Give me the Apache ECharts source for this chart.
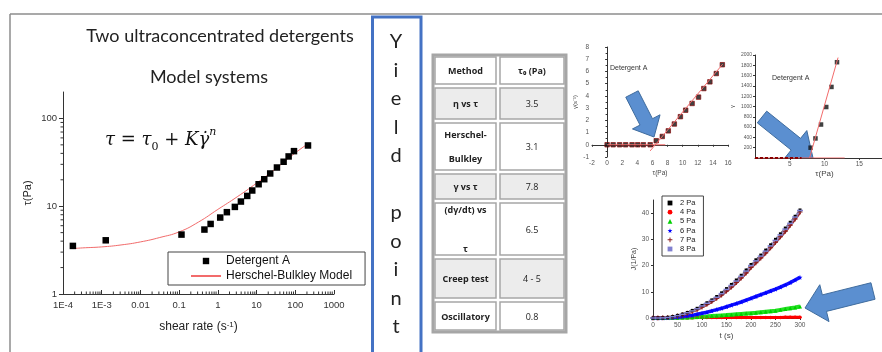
<!DOCTYPE html>
<html><head><meta charset="utf-8">
<script src="https://cdn.jsdelivr.net/npm/echarts@6/dist/echarts.min.js"></script>
<style>html,body{margin:0;padding:0;background:#fff}#c{width:882px;height:352px}</style>
</head><body><div id="c"></div><script>
// ---------- DATA ----------
// Main flow curve (log-log)
const shearRate = [1.8e-4,1.27e-3,0.115,0.45,0.65,1.15,1.71,2.75,3.94,5.74,7.73,11.3,15.8,22.5,33.6,49.9,67.3,92.5,213];
const shearStress = [3.53,4.09,4.75,5.42,6.28,7.43,8.55,9.82,11.3,13.1,15.1,17.8,20.3,23.6,27.6,32.1,36.9,42.4,49.2];
const modelRate = [1.8e-4,3.16e-4,1e-3,3.16e-3,1e-2,3.16e-2,0.1,0.316,1,3.16,10,31.6,100,213];
const modelStress = [3.29,3.35,3.44,3.62,3.92,4.4,5.1,6.6,9.2,12.8,18.3,26.9,40.5,51.5];
const xTickLabels = {'-4':'1E-4','-3':'1E-3','-2':'0.01','-1':'0.1','0':'1','1':'10','2':'100','3':'1000'};
const yTickLabels = {'0':'1','1':'10','2':'100'};

// Shear rate vs stress (top middle)
const tauRate = [0,0.8,1.65,2.45,3.3,4.05,4.8,5.7,6.5,7.3,8.1,8.9,9.7,10.4,11.25,12.1,12.8,13.6,14.45,15.25];
const rateVals = [0,0,0,0,0,0,0,0,0.33,0.68,1.14,1.7,2.3,2.83,3.38,3.9,4.6,5.15,5.83,6.55];
const rateFitTau = [5.7,15.3];
const rateFitVal = [-0.5,6.6];
const rateBaseTau = [0,7.7];
const rateBaseVal = [0,0];

// Strain vs stress (top right)
const tauStrain = [8.0,8.7,9.5,10.25,11.0,11.8];
const strainVals = [200,380,650,990,1380,1860];
const strainFlatTau = [0,6.7];
const strainFlatVal = [0,0];
const strainFitTau = [7.85,11.95];
const strainFitVal = [0,1950];
const strainBaseTau = [0,12.9];
const strainBaseVal = [0,0];

// Creep compliance (bottom right)
const creepTime = [0,10,20,30,40,50,60,70,80,90,100,110,120,130,140,150,160,170,180,190,200,210,220,230,240,250,260,270,280,290,300];
const J2Pa = [0,0,0.05,0.25,0.55,1.0,1.5,2.1,2.9,3.7,4.8,5.8,6.9,8.2,9.6,11.2,12.8,14.5,16.3,18.3,20.4,22.2,24.0,25.9,27.9,30.0,32.1,34.3,36.5,38.8,41.2];
const J4Pa = [0,0.05,0.08,0.1,0.1,0.12,0.12,0.14,0.14,0.15,0.15,0.16,0.16,0.17,0.17,0.18,0.18,0.19,0.19,0.2,0.2,0.21,0.21,0.22,0.22,0.23,0.23,0.24,0.24,0.25,0.25];
const J5Pa = [0,0,0,0,0.05,0.1,0.15,0.2,0.3,0.4,0.5,0.6,0.75,0.9,1.0,1.1,1.25,1.4,1.55,1.7,1.85,2.0,2.2,2.4,2.6,2.8,3.1,3.4,3.7,4.0,4.4];
const J6Pa = [0,0,0,0.05,0.15,0.3,0.5,0.75,1.0,1.4,1.8,2.2,2.7,3.2,3.7,4.3,4.9,5.5,6.1,6.8,7.5,8.2,8.9,9.6,10.3,11.0,11.8,12.6,13.5,14.5,15.5];
const J7Pa = [0,0,0.05,0.15,0.4,0.8,1.2,1.8,2.5,3.2,4.2,5.2,6.3,7.5,8.8,10.3,11.8,13.5,15.3,17.2,19.3,21.1,22.9,24.8,26.8,28.9,31.0,33.1,35.4,37.8,40.4];
const J8Pa = [0,0,0.05,0.2,0.5,0.9,1.4,2.0,2.7,3.5,4.6,5.6,6.7,7.9,9.3,10.9,12.4,14.1,15.9,17.9,20.0,21.8,23.6,25.5,27.5,29.6,31.7,33.9,36.1,38.5,41.0];

// Table
const tableHeader = ['Method','τ\u2080 (Pa)'];
const tableMethods = ['η vs τ','Herschel-\nBulkley','γ vs τ','(dγ/dt) vs\n\nτ','Creep test','Oscillatory'];
const tableValues = ['3.5','3.1','7.8','6.5','4 - 5','0.8'];
const yieldLetters = ['Y','i','e','l','d','','p','o','i','n','t'];

// ---------- HELPERS ----------
const zip = (a,b) => a.map((v,i)=>[v,b[i]]);
function arrowPts(x1,y1,x2,y2,sw,hw,hl){
  const dx=x2-x1, dy=y2-y1, L=Math.hypot(dx,dy), ux=dx/L, uy=dy/L, px=-uy, py=ux;
  const bx=x2-ux*hl, by=y2-uy*hl;
  return [[x1+px*sw/2,y1+py*sw/2],[bx+px*sw/2,by+py*sw/2],[bx+px*hw/2,by+py*hw/2],[x2,y2],
          [bx-px*hw/2,by-py*hw/2],[bx-px*sw/2,by-py*sw/2],[x1-px*sw/2,y1-py*sw/2]];
}
const minorX = []; for (let d=-4; d<3; d++) for (let k=2;k<10;k++) minorX.push(k*Math.pow(10,d));
const minorY = []; for (let d=0; d<3; d++) for (let k=2;k<10;k++) { const v=k*Math.pow(10,d); if (v<200) minorY.push(v); }

const SANS = 'Liberation Sans';
const smallLbl = {fontSize:6.5, color:'#555', fontFamily:SANS};
const axLine = {lineStyle:{color:'#333', width:1}};

// ---------- GRAPHIC ----------
const g = [];
g.push({type:'line', shape:{x1:10,y1:14,x2:882,y2:14}, style:{stroke:'#8c8c8c', lineWidth:1.5}, silent:true});
g.push({type:'line', shape:{x1:10,y1:14,x2:10,y2:352}, style:{stroke:'#8c8c8c', lineWidth:1.5}, silent:true});
g.push({type:'text', style:{text:'Two ultraconcentrated detergents', x:220, y:36, align:'center', verticalAlign:'middle', textAlign:'center', textVerticalAlign:'middle', font:'18px Lato', fill:'#222'}});
g.push({type:'text', style:{text:'Model systems', x:209, y:77, align:'center', verticalAlign:'middle', textAlign:'center', textVerticalAlign:'middle', font:'18px Lato', fill:'#222'}});
g.push({type:'text', style:{
  text:'{i|τ} = {i|τ}{sub|0} + {i|Kγ\u0307}{sup|n}', x:105, y:140, verticalAlign:'middle', textVerticalAlign:'middle',
  fontFamily:'DejaVu Serif', fontSize:18, fill:'#111', lineHeight:26,
  rich:{i:{fontStyle:'italic', fontFamily:'DejaVu Serif', fontSize:18, lineHeight:26},
        sub:{fontSize:11, fontFamily:'DejaVu Serif', verticalAlign:'bottom', lineHeight:18},
        sup:{fontSize:11, fontStyle:'italic', fontFamily:'DejaVu Serif', verticalAlign:'top', lineHeight:18}}
}});
// blue "Yield point" box
g.push({type:'rect', shape:{x:372.5,y:17,width:48.5,height:345}, style:{fill:'none', stroke:'#4472C4', lineWidth:3}});
yieldLetters.forEach((ch,i)=>{
  g.push({type:'text', style:{text:ch, x:396, y:42+i*28.5, align:'center', verticalAlign:'middle', textAlign:'center', textVerticalAlign:'middle', font:'20px Lato', fill:'#222'}});
});
// table
const colX = [433,498,566];
const rowY = [55,86,121,172,201,257,300,332];
const rowFill = ['#ffffff','#ececec','#ffffff','#ececec','#ffffff','#ececec','#ffffff'];
g.push({type:'rect', shape:{x:colX[0],y:rowY[0],width:colX[2]-colX[0],height:rowY[7]-rowY[0]}, style:{fill:'#fff', stroke:'#a6a6a6', lineWidth:3}});
for (let r=0;r<7;r++){
  for (let c=0;c<2;c++){
    g.push({type:'rect', shape:{x:colX[c]+2,y:rowY[r]+2,width:colX[c+1]-colX[c]-4,height:rowY[r+1]-rowY[r]-4}, style:{fill:rowFill[r], stroke:'#a6a6a6', lineWidth:1.5}});
    const txt = r===0 ? tableHeader[c] : (c===0 ? tableMethods[r-1] : tableValues[r-1]);
    const bold = (r===0 || c===0);
    const lh = (r===2 && c===0) ? 24 : 19.5;
    g.push({type:'text', style:{text:txt, x:(colX[c]+colX[c+1])/2, y:(rowY[r]+rowY[r+1])/2+1, align:'center', verticalAlign:'middle', textAlign:'center', textVerticalAlign:'middle',
      fontFamily:'Open Sans', fontSize:9, fontWeight: bold?'bold':'normal', lineHeight:lh, fill:'#222'}});
  }
}
// small chart captions
g.push({type:'text', style:{text:'Detergent A', x:610, y:68, verticalAlign:'middle', textVerticalAlign:'middle', font:'7px '+SANS, fill:'#333'}});
g.push({type:'text', style:{text:'Detergent A', x:772, y:78, verticalAlign:'middle', textVerticalAlign:'middle', font:'7px '+SANS, fill:'#333'}});
// arrows
const arrowStyle = {fill:'#5B8FD0', stroke:'#3F6C9E', lineWidth:1};
g.push({type:'polygon', shape:{points:arrowPts(632,94,654,137,14,31,17)}, style:arrowStyle});
g.push({type:'polygon', shape:{points:arrowPts(762,117,813,158,15,35,22)}, style:arrowStyle});
g.push({type:'polygon', shape:{points:arrowPts(873,291,805,308,17,38,20)}, style:arrowStyle});

// ---------- OPTION ----------
const option = {
  backgroundColor:'#fff',
  animation:false,
  grid:[
    {left:63, top:92, width:271, height:202, outerBoundsMode:'none', containLabel:false},
    {left:592, top:47, width:136, height:110, outerBoundsMode:'none', containLabel:false},
    {left:755, top:55, width:139, height:103, outerBoundsMode:'none', containLabel:false},
    {left:653, top:200, width:147, height:118, outerBoundsMode:'none', containLabel:false}
  ],
  xAxis:[
    {gridIndex:0, type:'log', logBase:10, min:1e-4, max:1000, axisLine:axLine,
     axisTick:{inside:true, length:4, lineStyle:{color:'#333'}}, splitLine:{show:false},
     axisLabel:{margin:6, fontSize:9.5, color:'#333', fontFamily:SANS, formatter:v=>{const e=Math.round(Math.log10(v)); return Math.abs(Math.log10(v)-e)<1e-6 ? (xTickLabels[String(e)]||'') : '';}},
     name:'{b|shear rate (s}{s|-1}{b|)}', nameLocation:'middle', nameGap:27,
     nameTextStyle:{rich:{b:{fontSize:12, fontFamily:SANS, color:'#222'}, s:{fontSize:8, fontFamily:SANS, color:'#222', verticalAlign:'top', lineHeight:12}}}},
    {gridIndex:1, type:'value', min:-2, max:16, interval:2, axisLine:axLine,
     axisTick:{length:2, lineStyle:{color:'#333'}}, splitLine:{show:false}, axisLabel:Object.assign({margin:3}, smallLbl),
     name:'τ(Pa)', nameLocation:'middle', nameGap:13, nameTextStyle:{fontSize:6.5, color:'#444', fontFamily:SANS}},
    {gridIndex:2, type:'value', min:0, max:20, interval:5, axisLine:axLine,
     axisTick:{length:2, lineStyle:{color:'#333'}}, splitLine:{show:false}, axisLabel:Object.assign({margin:3, showMinLabel:false}, smallLbl),
     name:'τ(Pa)', nameLocation:'middle', nameGap:12, nameTextStyle:{fontSize:8, color:'#444', fontFamily:SANS}},
    {gridIndex:3, type:'value', min:0, max:300, interval:50, axisLine:axLine,
     axisTick:{length:2, lineStyle:{color:'#333'}}, splitLine:{show:false}, axisLabel:Object.assign({margin:4}, smallLbl),
     name:'t (s)', nameLocation:'middle', nameGap:14, nameTextStyle:{fontSize:8, color:'#444', fontFamily:SANS}}
  ],
  yAxis:[
    {gridIndex:0, type:'log', logBase:10, min:1, max:200, axisLine:axLine,
     axisTick:{length:4, lineStyle:{color:'#333'}}, splitLine:{show:false},
     axisLabel:{margin:6, fontSize:9.5, color:'#333', fontFamily:SANS, showMaxLabel:false, formatter:v=>{const e=Math.round(Math.log10(v)); return Math.abs(Math.log10(v)-e)<1e-6 ? (yTickLabels[String(e)]||'') : '';}},
     name:'τ(Pa)', nameLocation:'middle', nameGap:30, nameTextStyle:{fontSize:11, color:'#222', fontFamily:SANS}},
    {gridIndex:1, type:'value', min:-1, max:8, interval:1, axisLine:axLine,
     axisTick:{length:2, lineStyle:{color:'#333'}}, minorTick:{show:true, splitNumber:2, length:1.5}, splitLine:{show:false}, axisLabel:Object.assign({margin:3}, smallLbl),
     name:'γ\u0307(s\u207B\u00B9)', nameLocation:'middle', nameGap:14, nameTextStyle:{fontSize:6, color:'#444', fontFamily:SANS}},
    {gridIndex:2, type:'value', min:0, max:2000, interval:200, axisLine:axLine,
     axisTick:{length:2, lineStyle:{color:'#333'}}, splitLine:{show:false}, axisLabel:{margin:3, fontSize:5, color:'#555', fontFamily:SANS, showMinLabel:false, formatter:v=>String(v)},
     name:'γ', nameLocation:'middle', nameGap:20, nameTextStyle:{fontSize:6, color:'#444', fontFamily:SANS}},
    {gridIndex:3, type:'value', min:0, max:45, interval:10, axisLine:axLine,
     axisTick:{length:2, lineStyle:{color:'#333'}}, splitLine:{show:false}, axisLabel:Object.assign({margin:4, showMaxLabel:false}, smallLbl),
     name:'J(1/Pa)', nameLocation:'middle', nameGap:15, nameTextStyle:{fontSize:7, color:'#444', fontFamily:SANS}}
  ],
  legend:[
    {left:168, top:252, orient:'vertical', padding:[3,13,3,22], itemGap:3, itemWidth:30, itemHeight:8,
     borderColor:'#444', borderWidth:1, backgroundColor:'#fff', selectedMode:false,
     textStyle:{fontSize:12, fontFamily:SANS, color:'#111'},
     data:['Detergent A',{name:'Herschel-Bulkley Model', itemStyle:{opacity:0}}]},
    {left:662, top:196, orient:'vertical', padding:[3,8,3,3], itemGap:1.2, itemWidth:10, itemHeight:6,
     borderColor:'#444', borderWidth:1, backgroundColor:'#fff', selectedMode:false, lineStyle:{opacity:0, width:0},
     textStyle:{fontSize:7.5, fontFamily:SANS, color:'#222'},
     data:['2 Pa','4 Pa','5 Pa','6 Pa','7 Pa','8 Pa']}
  ],
  series:[
    // main chart
    {name:'Herschel-Bulkley Model', type:'line', xAxisIndex:0, yAxisIndex:0, data:zip(modelRate,modelStress), smooth:true, symbol:'none',
     lineStyle:{color:'#F26B6B', width:1}, itemStyle:{color:'#F26B6B'}, z:2},
    {name:'Detergent A', type:'line', xAxisIndex:0, yAxisIndex:0, data:zip(shearRate,shearStress), symbol:'rect', symbolSize:6.5, showSymbol:true,
     lineStyle:{width:0, opacity:0}, itemStyle:{color:'#000'}, z:3},
    {type:'custom', xAxisIndex:0, yAxisIndex:0, silent:true, clip:false, data:minorX.map(v=>[v,1]),
     renderItem:(p,api)=>{const pt=api.coord([api.value(0),1]); return {type:'line', shape:{x1:pt[0],y1:pt[1],x2:pt[0],y2:pt[1]-2.5}, style:{stroke:'#333', lineWidth:1}};}},
    {type:'custom', xAxisIndex:0, yAxisIndex:0, silent:true, clip:false, data:minorY.map(v=>[1e-4,v]),
     renderItem:(p,api)=>{const pt=api.coord([1e-4,api.value(1)]); return {type:'line', shape:{x1:pt[0],y1:pt[1],x2:pt[0]-2.5,y2:pt[1]}, style:{stroke:'#333', lineWidth:1}};}},
    // top middle
    {name:'rateFit', type:'line', xAxisIndex:1, yAxisIndex:1, data:zip(rateFitTau,rateFitVal), symbol:'none', lineStyle:{color:'#F26B6B', width:1}},
    {name:'rateBase', type:'line', xAxisIndex:1, yAxisIndex:1, data:zip(rateBaseTau,rateBaseVal), symbol:'none', lineStyle:{color:'#F26B6B', width:1}},
    {name:'rateData', type:'scatter', xAxisIndex:1, yAxisIndex:1, data:zip(tauRate,rateVals), symbol:'rect', symbolSize:4.5,
     itemStyle:{color:'#111', borderColor:'#8B0000', borderWidth:0.8}},
    // top right
    {name:'strainBase', type:'line', xAxisIndex:2, yAxisIndex:2, data:zip(strainBaseTau,strainBaseVal), symbol:'none', lineStyle:{color:'#F26B6B', width:1}},
    {name:'strainFlat', type:'line', xAxisIndex:2, yAxisIndex:2, data:zip(strainFlatTau,strainFlatVal), symbol:'none', lineStyle:{color:'#8B0000', width:2, type:[3,2]}},
    {name:'strainFit', type:'line', xAxisIndex:2, yAxisIndex:2, data:zip(strainFitTau,strainFitVal), symbol:'none', lineStyle:{color:'#F26B6B', width:1}},
    {name:'strainData', type:'scatter', xAxisIndex:2, yAxisIndex:2, data:zip(tauStrain,strainVals), symbol:'rect', symbolSize:4.5, itemStyle:{color:'#111'}},
    // bottom right creep
    {name:'4 Pa', type:'line', xAxisIndex:3, yAxisIndex:3, data:zip(creepTime,J4Pa), symbol:'circle', symbolSize:3.5, showAllSymbol:true,
     lineStyle:{color:'#FF0000', width:3}, itemStyle:{color:'#FF0000'}},
    {name:'5 Pa', type:'line', xAxisIndex:3, yAxisIndex:3, data:zip(creepTime,J5Pa), symbol:'triangle', symbolSize:4, showAllSymbol:true,
     lineStyle:{color:'#22E022', width:4}, itemStyle:{color:'#00D000'}},
    {name:'6 Pa', type:'line', xAxisIndex:3, yAxisIndex:3, data:zip(creepTime,J6Pa), showAllSymbol:true,
     symbol:'path://M5,0L6.2,3.6L10,3.6L7,5.9L8.1,9.5L5,7.3L1.9,9.5L3,5.9L0,3.6L3.8,3.6Z', symbolSize:5,
     lineStyle:{color:'#1010FF', width:3.5}, itemStyle:{color:'#0000FF'}},
    {name:'7 Pa', type:'line', xAxisIndex:3, yAxisIndex:3, data:zip(creepTime,J7Pa), showAllSymbol:true,
     symbol:'path://M4,0H6V4H10V6H6V10H4V6H0V4H4Z', symbolSize:5,
     lineStyle:{color:'#9B2B2B', width:3}, itemStyle:{color:'#8B1A1A'}},
    {name:'2 Pa', type:'line', xAxisIndex:3, yAxisIndex:3, data:zip(creepTime,J2Pa), symbol:'rect', symbolSize:3, showAllSymbol:true,
     lineStyle:{color:'#222', width:1.5, type:[2,2]}, itemStyle:{color:'#000'}},
    {name:'8 Pa', type:'line', xAxisIndex:3, yAxisIndex:3, data:zip(creepTime,J8Pa), showAllSymbol:true,
     symbol:'path://M0,0H10V2.5H0Z', symbolKeepAspect:true, symbolSize:6,
     lineStyle:{color:'#9C9CDC', width:2.5, opacity:0.8}, itemStyle:{color:'#8080D0'}}
  ],
  graphic:{elements:g}
};
const chart = echarts.init(document.getElementById('c'));
chart.setOption(option);
</script></body></html>
